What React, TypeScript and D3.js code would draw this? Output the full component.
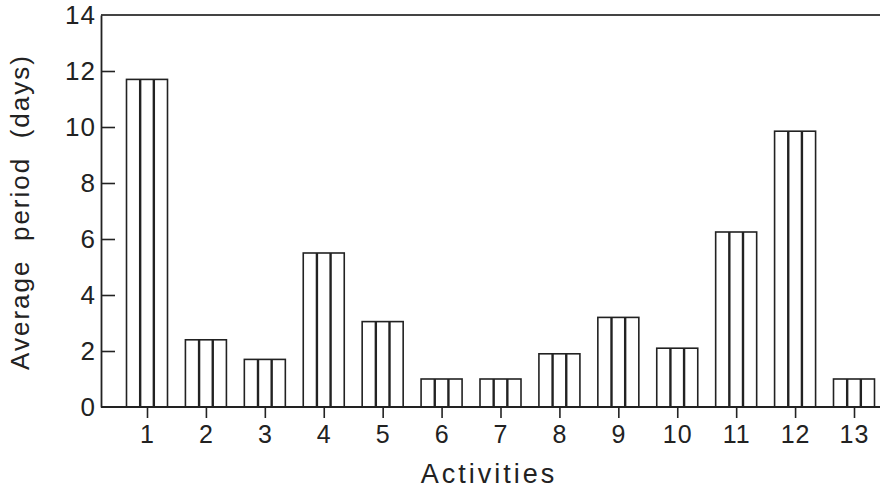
// Bar chart: average period (days) per activity, vertical hatched bars
import React, { useEffect, useRef } from 'react';
import * as d3 from 'd3';

const activities = [1, 2, 3, 4, 5, 6, 7, 8, 9, 10, 11, 12, 13];
const avgPeriod = [11.7, 2.4, 1.7, 5.5, 3.05, 1.0, 1.0, 1.9, 3.2, 2.1, 6.25, 9.85, 1.0];
const yTicks = [0, 2, 4, 6, 8, 10, 12, 14];

const App: React.FC = () => {
  const svgRef = useRef<SVGSVGElement>(null);

  useEffect(() => {
    const svg = d3.select(svgRef.current);
    svg.selectAll('*').remove();

    const width = 880;
    const height = 491;
    const margin = { top: 15, right: 0, bottom: 84, left: 101 };
    const ink = '#222';
    const font = '"Liberation Sans", Arial, sans-serif';

    svg.attr('width', width).attr('height', height);

    const x = d3
      .scaleLinear()
      .domain([1, 13])
      .range([147, 854]);

    const y = d3
      .scaleLinear()
      .domain([0, 14])
      .range([height - margin.bottom, margin.top]);

    const barW = 41;

    // bars with two interior vertical lines
    const bars = svg
      .append('g')
      .selectAll('g')
      .data(activities)
      .join('g');

    bars
      .append('rect')
      .attr('x', (d) => x(d) - barW / 2)
      .attr('y', (d, i) => y(avgPeriod[i]))
      .attr('width', barW)
      .attr('height', (d, i) => y(0) - y(avgPeriod[i]))
      .attr('fill', '#fff')
      .attr('stroke', ink)
      .attr('stroke-width', 1.6);

    [1 / 3, 2 / 3].forEach((f) => {
      bars
        .append('line')
        .attr('x1', (d) => x(d) - barW / 2 + barW * f)
        .attr('x2', (d) => x(d) - barW / 2 + barW * f)
        .attr('y1', (d, i) => y(avgPeriod[i]))
        .attr('y2', y(0))
        .attr('stroke', ink)
        .attr('stroke-width', 2.4);
    });

    // frame: top line and baseline
    svg
      .append('line')
      .attr('x1', margin.left)
      .attr('x2', width)
      .attr('y1', y(14))
      .attr('y2', y(14))
      .attr('stroke', '#444')
      .attr('stroke-width', 1.8);

    svg
      .append('line')
      .attr('x1', margin.left)
      .attr('x2', width)
      .attr('y1', y(0))
      .attr('y2', y(0))
      .attr('stroke', ink)
      .attr('stroke-width', 1.8);

    // y axis, ticks pointing inward
    const yAxis = d3
      .axisLeft(y)
      .tickValues(yTicks)
      .tickSizeInner(-14)
      .tickSizeOuter(0)
      .tickPadding(6)
      .tickFormat((d) => `${d}`);

    const gy = svg
      .append('g')
      .attr('transform', `translate(${margin.left},0)`)
      .call(yAxis);
    gy.select('.domain').attr('stroke', ink).attr('stroke-width', 1.8);
    gy.selectAll('.tick line')
      .attr('stroke', ink)
      .attr('stroke-width', 1.6)
      .attr('opacity', (d) => ((d as number) === 0 || (d as number) === 14 ? 0 : 1));
    gy.selectAll('.tick text')
      .attr('x', -5)
      .attr('fill', ink)
      .style('font-family', font)
      .style('font-size', '26px')
      .style('letter-spacing', '1px');

    // x axis, ticks pointing down
    const xAxis = d3
      .axisBottom(x)
      .tickValues(activities)
      .tickSizeInner(11)
      .tickSizeOuter(0)
      .tickPadding(7)
      .tickFormat((d) => `${d}`);

    const gx = svg
      .append('g')
      .attr('transform', `translate(0,${y(0)})`)
      .call(xAxis);
    gx.select('.domain').remove();
    gx.selectAll('.tick line').attr('stroke', ink).attr('stroke-width', 1.6);
    gx.selectAll('.tick text')
      .attr('fill', ink)
      .style('font-family', font)
      .style('font-size', '25px')
      .style('letter-spacing', '1px');

    // axis titles
    svg
      .append('text')
      .attr('x', 489)
      .attr('y', 483)
      .attr('text-anchor', 'middle')
      .attr('fill', ink)
      .style('font-family', font)
      .style('font-size', '27px')
      .style('letter-spacing', '3px')
      .text('Activities');

    svg
      .append('text')
      .attr('transform', 'rotate(-90)')
      .attr('x', -212)
      .attr('y', 29)
      .attr('text-anchor', 'middle')
      .attr('fill', ink)
      .style('font-family', font)
      .style('font-size', '26px')
      .style('letter-spacing', '2px')
      .style('white-space', 'pre')
      .text('Average  period  (days)');
  }, []);

  return (
    <svg
      ref={svgRef}
      style={{ position: 'fixed', left: 0, top: 0, display: 'block', background: '#fff' }}
    ></svg>
  );
};

export default App;
